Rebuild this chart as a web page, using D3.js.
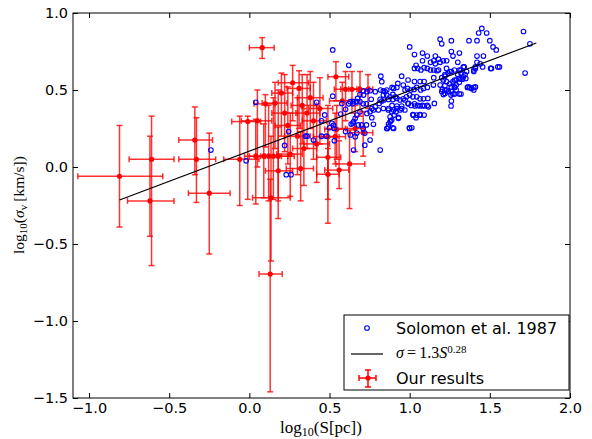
<!DOCTYPE html>
<html>
<head>
<meta charset="utf-8">
<script src="https://cdn.jsdelivr.net/npm/d3@7"></script>
<style>
  body { margin: 0; background: #fff; }
  svg { display: block; }
</style>
</head>
<body>
<svg id="chart"></svg>
<script>
const xTicks = [-1.0, -0.5, 0.0, 0.5, 1.0, 1.5, 2.0];
const yTicks = [-1.5, -1.0, -0.5, 0.0, 0.5, 1.0];

// fitted relation, end points
const fitX = [-0.81, 1.79];
const fitY = [-0.214, 0.805];

// Solomon et al. 1987 clouds: [log S, log sigma]
const solomon = [
  [1.45,0.90],[1.43,0.87],[1.48,0.87],[1.71,0.88],[1.19,0.83],[1.26,0.82],[1.37,0.82],[1.42,0.82],[1.50,0.82],[1.20,0.80],[1.75,0.80],
  [1.00,0.78],[0.52,0.76],[1.52,0.78],[1.54,0.76],[1.31,0.74],[1.26,0.75],[1.08,0.74],[1.03,0.73],
  [1.16,0.72],[1.11,0.72],[1.27,0.72],[1.42,0.72],[1.46,0.72],[1.18,0.70],[1.15,0.69],[1.21,0.69],[1.23,0.69],[1.08,0.69],[1.19,0.68],
  [1.30,0.68],[1.42,0.68],[1.44,0.67],[1.13,0.68],[1.16,0.67],[1.04,0.66],[0.62,0.66],[1.56,0.65],[1.34,0.65],[1.09,0.645],
  [1.03,0.64],[1.05,0.64],[1.07,0.63],[1.11,0.64],[1.13,0.63],[1.15,0.63],[1.17,0.625],[1.18,0.63],[1.23,0.64],[1.25,0.62],
  [1.32,0.63],[1.355,0.62],[1.40,0.62],[1.41,0.64],[1.51,0.64],[1.72,0.61],[0.95,0.59],[1.30,0.60],[1.335,0.585],
  [0.82,0.59],[0.99,0.565],[1.03,0.555],[1.065,0.555],[1.09,0.555],[1.15,0.58],[1.21,0.565],[1.22,0.59],[1.32,0.57],[1.29,0.565],
  [1.31,0.55],[0.826,0.554],[0.926,0.543],[0.96,0.532],[1.19,0.532],[1.29,0.532],[1.28,0.517],[1.36,0.517],[1.375,0.517],[1.40,0.517],
  [1.26,0.52],[0.89,0.517],[0.90,0.51],[0.92,0.517],[0.986,0.51],[1.044,0.517],[1.11,0.517],
  [1.40,0.50],[1.32,0.474],[1.28,0.474],[1.258,0.467],[1.204,0.504],[1.23,0.50],[1.22,0.478],[1.148,0.532],[1.086,0.51],[1.069,0.50],
  [1.027,0.504],[1.007,0.50],[0.971,0.50],[0.857,0.50],[0.847,0.489],[0.836,0.495],[0.818,0.50],[0.785,0.489],[0.753,0.495],[0.733,0.489],
  [0.712,0.495],[0.836,0.467],[0.857,0.467],[0.878,0.456],[0.895,0.471],[0.911,0.456],[0.92,0.445],[0.94,0.435],[0.96,0.443],[0.98,0.456],
  [1.0,0.467],[1.02,0.456],[1.044,0.456],[1.065,0.443],[1.086,0.443],[0.69,0.47],[0.712,0.467],[0.675,0.445],
  [1.26,0.428],[1.258,0.396],[1.154,0.413],[1.113,0.445],[1.034,0.396],[1.065,0.396],[1.09,0.396],[1.117,0.391],[0.95,0.396],[0.92,0.396],
  [0.915,0.359],[0.903,0.337],[0.888,0.359],[0.868,0.38],[0.992,0.413],[0.971,0.435],[0.895,0.439],[0.868,0.439],[0.84,0.435],[0.826,0.428],
  [0.81,0.413],[0.785,0.391],[0.764,0.38],[0.753,0.359],[0.733,0.348],[0.69,0.359],[0.67,0.337],[0.666,0.424],[0.645,0.41],[0.629,0.424],
  [1.023,0.337],[1.044,0.337],[1.065,0.337],[1.09,0.337],[0.93,0.322],[0.878,0.326],[0.882,0.30],[0.868,0.279],[0.774,0.277],[0.857,0.25],
  [0.895,0.255],[0.998,0.255],[1.013,0.255],[0.66,0.316],[0.65,0.294],[0.635,0.279],[0.753,0.175],[0.72,0.142],[0.65,0.11],[0.816,0.11],
  [0.04,0.42],[0.42,0.42],[0.52,0.46],[0.577,0.413],[0.62,0.41],[0.60,0.375],[0.57,0.344],[0.47,0.338],[0.45,0.30],[0.50,0.255],
  [0.525,0.27],[0.48,0.20],[0.45,0.20],[0.35,0.20],[0.36,0.20],[0.245,0.23],[-0.24,0.11],[-0.02,0.04],[0.22,0.14],[0.40,0.175],
  [0.23,-0.05],[0.26,-0.05],[0.53,0.17],
  [0.76,0.44],[0.836,0.38],[0.867,0.37],[0.89,0.40],[0.92,0.38],[0.97,0.37],[0.99,0.41],[1.02,0.34],[1.04,0.32],[1.065,0.34],
  [0.774,0.37],[0.805,0.37],[0.878,0.294],[0.888,0.305],[0.867,0.26],[0.90,0.25],[0.86,0.25],[0.93,0.316],[1.00,0.25],[0.764,0.32],
  [0.646,0.284],[0.68,0.273],[0.70,0.273],[0.73,0.273],[0.71,0.25],[0.72,0.22],[0.67,0.22],[0.66,0.197],[0.53,0.25],[0.515,0.284],
  [0.60,0.23],[0.63,0.208],[0.65,0.424],[0.67,0.424],[0.69,0.424],[0.71,0.41],[0.73,0.41],[0.816,0.44],[0.90,0.37],[0.94,0.37],
  [0.95,0.38],[1.01,0.40],[1.03,0.41],[1.05,0.40],[1.08,0.40],[1.11,0.40],
  [1.455,0.65],[1.41,0.65],[1.40,0.63],[1.335,0.65],[1.31,0.63],[1.28,0.63],[1.26,0.62],[1.24,0.61],[1.22,0.60],[1.20,0.58],
  [1.32,0.61],[1.345,0.60],[1.35,0.575],[1.33,0.57],[1.31,0.575],[1.28,0.565],[1.27,0.554],[1.25,0.54],[1.28,0.52],[1.29,0.50],
  [1.26,0.49],[1.24,0.49],[1.22,0.50],[1.20,0.49],[1.21,0.47],[1.27,0.474],[1.31,0.474],[1.365,0.52],[1.385,0.51],[1.41,0.52],
  [1.505,0.64],[1.55,0.65],[1.23,0.554],[1.22,0.53]
];

// our results: [x, y, xLow, xHigh, yLow, yHigh]
const ours = [
  [-0.81,-0.06,-1.07,-0.54,-0.39,0.27],
  [-0.61,0.05,-0.75,-0.47,-0.64,0.33],
  [-0.62,-0.22,-0.76,-0.47,-0.45,0.20],
  [-0.34,0.175,-0.44,-0.23,-0.05,0.39],
  [-0.33,0.05,-0.44,-0.21,-0.23,0.32],
  [-0.25,-0.17,-0.38,-0.12,-0.565,0.22],
  [0.08,0.775,0.00,0.155,0.705,0.84],
  [0.13,-0.695,0.06,0.205,-1.46,-0.08],
  [-0.01,0.295,-0.11,0.07,-0.21,0.33],
  [-0.06,0.05,-0.16,0.06,-0.25,0.33],
  [0.04,0.07,-0.03,0.12,-0.24,0.31],
  [0.09,0.07,0.00,0.18,-0.20,0.28],
  [0.12,0.07,0.04,0.20,-0.22,0.40],
  [0.15,0.07,0.07,0.24,-0.21,0.45],
  [0.18,0.07,0.10,0.28,-0.22,0.50],
  [0.135,-0.20,0.02,0.255,-0.61,0.20],
  [0.18,-0.025,0.10,0.27,-0.335,0.26],
  [0.10,0.41,0.03,0.16,0.13,0.47],
  [0.16,0.415,0.08,0.235,0.12,0.55],
  [0.20,0.48,0.14,0.27,0.20,0.61],
  [0.27,0.547,0.18,0.37,0.30,0.66],
  [0.31,0.51,0.235,0.38,0.25,0.625],
  [0.255,0.084,0.17,0.33,-0.19,0.35],
  [0.32,-0.01,0.23,0.40,-0.22,0.23],
  [0.49,-0.047,0.42,0.56,-0.365,0.12],
  [0.49,0.063,0.42,0.57,-0.21,0.25],
  [0.56,-0.02,0.47,0.62,-0.14,0.17],
  [0.625,0.02,0.54,0.72,-0.27,0.24],
  [0.54,0.586,0.49,0.62,0.43,0.684],
  [0.60,0.505,0.53,0.67,0.30,0.62],
  [0.64,0.505,0.57,0.69,0.35,0.62],
  [0.69,0.505,0.62,0.75,0.33,0.62],
  [0.74,0.505,0.68,0.77,0.38,0.60],
  [0.535,0.197,0.45,0.60,0.02,0.35],
  [0.49,0.197,0.40,0.56,-0.05,0.40],
  [0.545,0.245,0.47,0.61,0.05,0.40],
  [0.66,0.25,0.60,0.72,0.10,0.40],
  [0.71,0.223,0.63,0.77,0.07,0.36],
  [0.58,0.43,0.50,0.64,0.25,0.55],
  [0.40,0.30,0.33,0.48,0.05,0.55],
  [0.36,0.35,0.29,0.44,0.12,0.60],
  [0.44,0.38,0.37,0.52,0.15,0.58],
  [0.30,0.20,0.22,0.38,-0.05,0.45],
  [0.24,0.27,0.16,0.32,0.02,0.52],
  [0.34,0.12,0.27,0.42,-0.12,0.38],
  [0.42,0.15,0.34,0.50,-0.10,0.40],
  [0.38,0.45,0.30,0.46,0.25,0.62],
  [0.33,0.40,0.26,0.42,0.15,0.60],
  [0.22,0.35,0.14,0.30,0.10,0.60],
  [0.05,0.30,-0.05,0.14,0.00,0.50]
];

const legendLabels = ["Solomon et al. 1987", "Our results"];

const W = 592, H = 439;
const svg = d3.select("#chart").attr("width", W).attr("height", H);

const x = d3.scaleLinear().domain([-1.1, 2.0]).range([73, 570]);
const y = d3.scaleLinear().domain([-1.5, 1.0]).range([398, 13]);

const tickFont = "'DejaVu Sans', sans-serif";
const mathFont = "'Liberation Serif', 'DejaVu Serif', serif";
const fmt = d3.format(".1f");

// frame
svg.append("rect")
  .attr("x", x(-1.1)).attr("y", y(1.0))
  .attr("width", x(2.0) - x(-1.1)).attr("height", y(-1.5) - y(1.0))
  .attr("fill", "none").attr("stroke", "#000").attr("stroke-width", 1);

function styleAxis(g, labels) {
  g.select(".domain").remove();
  g.selectAll(".tick line").attr("stroke", "#000").attr("stroke-width", 1);
  g.selectAll("text").style("font-family", tickFont).style("font-size", "14.5px").attr("fill", "#000");
  if (!labels) g.selectAll("text").remove();
}

svg.append("g").attr("transform", `translate(0,${y(-1.5)})`)
  .call(d3.axisBottom(x).tickValues(xTicks).tickFormat(fmt).tickSizeInner(-5).tickSizeOuter(0).tickPadding(5))
  .call(g => styleAxis(g, true));
svg.append("g").attr("transform", `translate(0,${y(1.0)})`)
  .call(d3.axisTop(x).tickValues(xTicks).tickSizeInner(-5).tickSizeOuter(0))
  .call(g => styleAxis(g, false));
svg.append("g").attr("transform", `translate(${x(-1.1)},0)`)
  .call(d3.axisLeft(y).tickValues(yTicks).tickFormat(fmt).tickSizeInner(-5).tickSizeOuter(0).tickPadding(5))
  .call(g => styleAxis(g, true));
svg.append("g").attr("transform", `translate(${x(2.0)},0)`)
  .call(d3.axisRight(y).tickValues(yTicks).tickSizeInner(-5).tickSizeOuter(0))
  .call(g => styleAxis(g, false));

const plot = svg.append("g");
const red = "#ff0000";
const cap = 3;

// error bars
const eb = plot.append("g").attr("stroke", red).attr("stroke-width", 1.5).attr("stroke-opacity", 0.8);
ours.forEach(d => {
  const [cx, cy, x0, x1, y0, y1] = d;
  eb.append("line").attr("x1", x(x0)).attr("x2", x(x1)).attr("y1", y(cy)).attr("y2", y(cy));
  eb.append("line").attr("x1", x(cx)).attr("x2", x(cx)).attr("y1", y(y0)).attr("y2", y(y1));
  eb.append("line").attr("x1", x(x0)).attr("x2", x(x0)).attr("y1", y(cy) - cap).attr("y2", y(cy) + cap);
  eb.append("line").attr("x1", x(x1)).attr("x2", x(x1)).attr("y1", y(cy) - cap).attr("y2", y(cy) + cap);
  eb.append("line").attr("x1", x(cx) - cap).attr("x2", x(cx) + cap).attr("y1", y(y0)).attr("y2", y(y0));
  eb.append("line").attr("x1", x(cx) - cap).attr("x2", x(cx) + cap).attr("y1", y(y1)).attr("y2", y(y1));
});
plot.append("g").selectAll("circle").data(ours).join("circle")
  .attr("cx", d => x(d[0])).attr("cy", d => y(d[1])).attr("r", 2.6)
  .attr("fill", red).attr("stroke", "none");

// Solomon points
plot.append("g").selectAll("circle").data(solomon).join("circle")
  .attr("cx", d => x(d[0])).attr("cy", d => y(d[1])).attr("r", 2.3)
  .attr("fill", "none").attr("stroke", "#0000ff").attr("stroke-width", 1.1);

// fit line
plot.append("line")
  .attr("x1", x(fitX[0])).attr("y1", y(fitY[0]))
  .attr("x2", x(fitX[1])).attr("y2", y(fitY[1]))
  .attr("stroke", "#000").attr("stroke-width", 1.2);

// axis labels
const xl = svg.append("text").attr("x", 321).attr("y", 433).attr("text-anchor", "middle")
  .style("font-family", mathFont).style("font-size", "17px");
xl.append("tspan").text("log");
xl.append("tspan").attr("baseline-shift", "-25%").style("font-size", "12px").text("10");
xl.append("tspan").text("(S[pc])");

const yl = svg.append("text").attr("transform", "translate(24,205) rotate(-90)").attr("text-anchor", "middle")
  .style("font-family", mathFont).style("font-size", "15.5px");
yl.append("tspan").text("log");
yl.append("tspan").attr("baseline-shift", "-25%").style("font-size", "11px").text("10");
yl.append("tspan").text("(");
yl.append("tspan").style("font-style", "italic").text("σ");
yl.append("tspan").attr("baseline-shift", "-25%").style("font-size", "11px").text("v");
yl.append("tspan").text("\u2009[km/s])");

// legend
const lg = svg.append("g");
lg.append("rect").attr("x", 344).attr("y", 315).attr("width", 225).attr("height", 75)
  .attr("fill", "#fff").attr("stroke", "#000").attr("stroke-width", 1);
lg.append("circle").attr("cx", 367).attr("cy", 328).attr("r", 2.3)
  .attr("fill", "none").attr("stroke", "#0000ff").attr("stroke-width", 1.1);
lg.append("text").attr("x", 396).attr("y", 334).text(legendLabels[0])
  .style("font-family", tickFont).style("font-size", "16px");
lg.append("line").attr("x1", 351).attr("x2", 383).attr("y1", 354).attr("y2", 354)
  .attr("stroke", "#000").attr("stroke-width", 1.2);
const lt = lg.append("text").attr("x", 396).attr("y", 358)
  .style("font-family", mathFont).style("font-size", "16px");
lt.append("tspan").style("font-style", "italic").text("σ");
lt.append("tspan").text("\u2009=\u20091.3");
lt.append("tspan").style("font-style", "italic").text("S");
lt.append("tspan").attr("baseline-shift", "45%").style("font-size", "11px").text("0.28");
const le = lg.append("g").attr("stroke", red).attr("stroke-width", 1.5);
le.append("line").attr("x1", 359).attr("x2", 376).attr("y1", 378).attr("y2", 378);
le.append("line").attr("x1", 368).attr("x2", 368).attr("y1", 370).attr("y2", 387);
le.append("line").attr("x1", 359).attr("x2", 359).attr("y1", 375).attr("y2", 381);
le.append("line").attr("x1", 376).attr("x2", 376).attr("y1", 375).attr("y2", 381);
le.append("line").attr("x1", 365).attr("x2", 371).attr("y1", 370).attr("y2", 370);
le.append("line").attr("x1", 365).attr("x2", 371).attr("y1", 387).attr("y2", 387);
lg.append("circle").attr("cx", 368).attr("cy", 378).attr("r", 2.6).attr("fill", red);
lg.append("text").attr("x", 396).attr("y", 384).text(legendLabels[1])
  .style("font-family", tickFont).style("font-size", "16px");
</script>
</body>
</html>
